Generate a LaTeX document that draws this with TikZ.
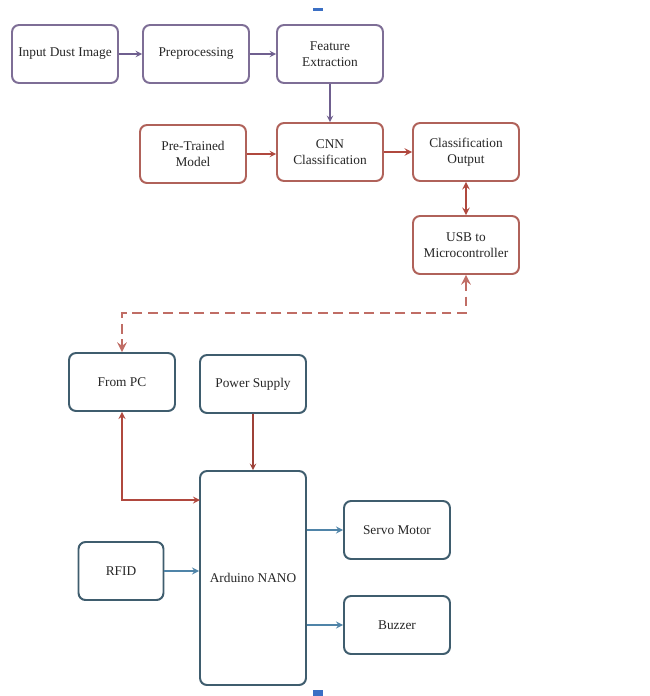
\documentclass[tikz,border=0pt]{standalone}
\usepackage{fontspec}
\setmainfont{Liberation Serif}
\usetikzlibrary{positioning}
\definecolor{boxpurple}{HTML}{7E6E96}
\definecolor{arrpurple}{HTML}{6F5F8F}
\definecolor{boxred}{HTML}{B0625A}
\definecolor{arrred}{HTML}{B0483E}
\definecolor{boxblue}{HTML}{3F5D6E}
\definecolor{arrblue}{HTML}{4F84A8}
\definecolor{handle}{HTML}{3B6FC4}
\begin{document}
\begin{tikzpicture}
        % Styles for the blocks and connectors
        \tikzset{
            block/.style={
                draw,
                rectangle,
                rounded corners=5pt,
                line width=1.4pt,
                minimum width=2.65cm,
                minimum height=1.45cm,
                fill=white,
                align=center,
                font=\fontsize{9.5}{11.5}\selectfont,
                text=black!85
            },
            arrow/.style={
                line width=1pt,
                ->,
                >=stealth
            }
        }
        \useasboundingbox (0,0) rectangle (16.25,-17.4);
        % Image processing chain
        \node[block,draw=boxpurple] (input) at (1.625,-1.35) {Input Dust Image};
        \node[block,draw=boxpurple] (prep) at (4.9,-1.35) {Preprocessing};
        \node[block,draw=boxpurple] (feat) at (8.25,-1.35) {Feature\\Extraction};
        % Classification chain
        \node[block,draw=boxred] (pretrained) at (4.825,-3.85) {Pre-Trained\\Model};
        \node[block,draw=boxred] (cnn) at (8.25,-3.8) {CNN\\Classification};
        \node[block,draw=boxred] (clsout) at (11.65,-3.8) {Classification\\Output};
        \node[block,draw=boxred] (usb) at (11.65,-6.125) {USB to\\Microcontroller};
        % Hardware side
        \node[block,draw=boxblue] (frompc) at (3.05,-9.55) {From PC};
        \node[block,draw=boxblue] (power) at (6.325,-9.6) {Power Supply};
        \node[block,draw=boxblue,minimum height=5.35cm] (arduino) at (6.325,-14.45) {Arduino NANO};
        \node[block,draw=boxblue] (servo) at (9.925,-13.25) {Servo Motor};
        \node[block,draw=boxblue] (buzzer) at (9.925,-15.625) {Buzzer};
        \node[block,draw=boxblue,minimum width=2.125cm] (rfid) at (3.025,-14.275) {RFID};
        % Helper points
        \coordinate (bend) at (11.65,-7.825);
        \coordinate (pcin) at (5,-12.5);
        % Connectors
        \draw[arrow,arrpurple] (input) -- (prep);
        \draw[arrow,arrpurple] (prep) -- (feat);
        \draw[arrow,arrpurple] (feat) -- (cnn);
        \draw[arrow,arrred] (pretrained.east) -- (pretrained.east -| cnn.west);
        \draw[arrow,arrred,line width=1.3pt] (cnn) -- (clsout);
        \draw[arrow,arrred,<->,line width=1.3pt] (clsout) -- (usb);
        \draw[arrow,arrred!80,<->,dashed,dash pattern=on 7pt off 4pt,line width=2pt] (usb.south) -- (bend) -| (frompc.north);
        \draw[arrow,arrred,<->,line width=1.2pt] (frompc.south) |- (pcin);
        \draw[arrow,arrred!90!black] (power) -- (arduino);
        \draw[arrow,arrblue,line width=1.2pt] (rfid.east) -- (rfid.east -| arduino.west);
        \draw[arrow,arrblue,line width=1.2pt] (arduino.east |- servo.west) -- (servo.west);
        \draw[arrow,arrblue,line width=1.2pt] (arduino.east |- buzzer.west) -- (buzzer.west);
        % Selection handles
        \fill[handle] (7.825,-0.2) rectangle (8.075,-0.28);
        \fill[handle] (7.825,-17.25) rectangle (8.075,-17.4);
    \end{tikzpicture}
\end{document}
